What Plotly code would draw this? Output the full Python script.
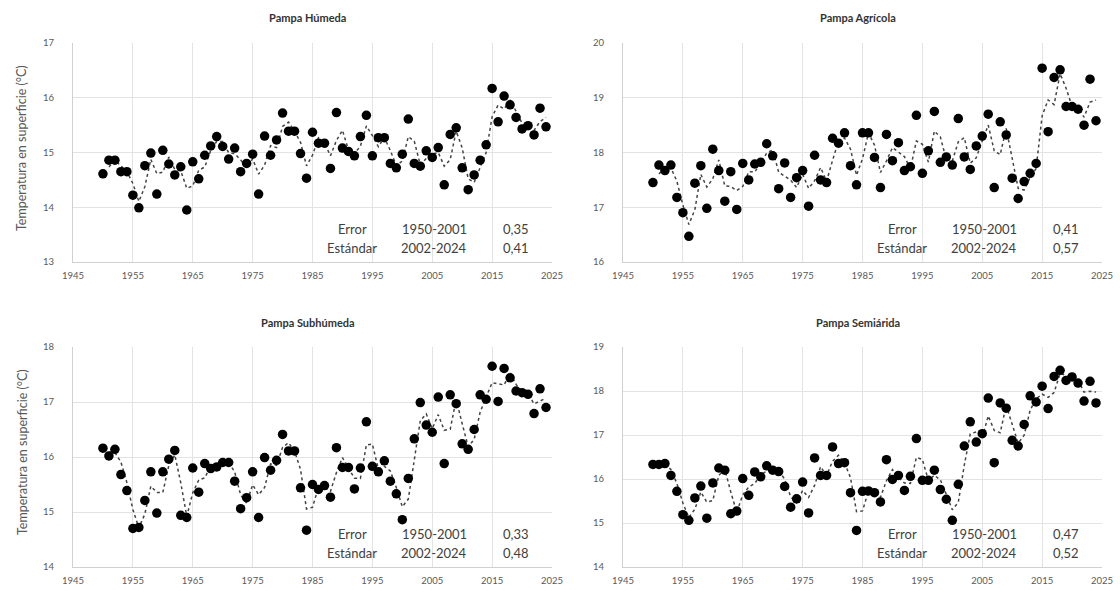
import plotly.graph_objects as go
import pandas as pd

years = list(range(1950, 2025))

humeda = [14.61, 14.86, 14.86, 14.65, 14.65, 14.22, 13.99, 14.76, 14.99, 14.24,
          15.04, 14.79, 14.59, 14.74, 13.95, 14.83, 14.52, 14.95, 15.12, 15.29,
          15.11, 14.88, 15.08, 14.65, 14.80, 14.97, 14.24, 15.30, 14.95, 15.23,
          15.72, 15.39, 15.39, 14.98, 14.53, 15.37, 15.17, 15.17, 14.71, 15.73,
          15.08, 15.02, 14.94, 15.29, 15.68, 14.94, 15.27, 15.27, 14.80, 14.72,
          14.97, 15.61, 14.80, 14.75, 15.03, 14.91, 15.09, 14.41, 15.33, 15.45,
          14.72, 14.32, 14.59, 14.86, 15.14, 16.17, 15.56, 16.03, 15.87, 15.64,
          15.43, 15.49, 15.32, 15.81, 15.47]

agricola = [17.45, 17.77, 17.67, 17.77, 17.18, 16.90, 16.47, 17.44, 17.76, 16.98,
            18.06, 17.67, 17.11, 17.65, 16.96, 17.80, 17.50, 17.79, 17.82, 18.16,
            17.94, 17.34, 17.81, 17.18, 17.54, 17.67, 17.02, 17.95, 17.50, 17.45,
            18.26, 18.17, 18.36, 17.76, 17.41, 18.36, 18.36, 17.91, 17.36, 18.33,
            17.85, 18.18, 17.67, 17.74, 18.68, 17.62, 18.03, 18.75, 17.82, 17.92,
            17.77, 18.62, 17.92, 17.69, 18.12, 18.30, 18.70, 17.36, 18.56, 18.32,
            17.53, 17.16, 17.47, 17.62, 17.80, 19.54, 18.38, 19.37, 19.51, 18.84,
            18.84, 18.79, 18.50, 19.34, 18.58]

subhumeda = [16.16, 16.02, 16.14, 15.68, 15.39, 14.70, 14.72, 15.21, 15.73, 14.98,
             15.73, 15.96, 16.12, 14.94, 14.90, 15.80, 15.36, 15.88, 15.79, 15.82,
             15.90, 15.90, 15.56, 15.06, 15.26, 15.73, 14.90, 15.99, 15.76, 15.94,
             16.41, 16.11, 16.11, 15.44, 14.67, 15.50, 15.41, 15.48, 15.27, 16.17,
             15.81, 15.81, 15.42, 15.80, 16.64, 15.83, 15.73, 15.93, 15.56, 15.33,
             14.86, 15.61, 16.33, 16.99, 16.58, 16.45, 17.09, 15.88, 17.13, 16.97,
             16.24, 16.14, 16.50, 17.13, 17.05, 17.65, 17.01, 17.61, 17.44, 17.20,
             17.17, 17.14, 16.79, 17.24, 16.90]

semiarida = [16.33, 16.33, 16.35, 16.08, 15.72, 15.19, 15.06, 15.57, 15.84, 15.11,
             15.91, 16.25, 16.20, 15.21, 15.27, 16.01, 15.63, 16.16, 16.05, 16.30,
             16.20, 16.17, 15.83, 15.36, 15.55, 15.93, 15.23, 16.48, 16.08, 16.08,
             16.73, 16.35, 16.37, 15.69, 14.83, 15.72, 15.73, 15.69, 15.48, 16.44,
             15.99, 16.08, 15.74, 16.06, 16.92, 15.97, 15.97, 16.20, 15.76, 15.54,
             15.06, 15.88, 16.75, 17.30, 16.84, 17.03, 17.84, 16.37, 17.73, 17.61,
             16.88, 16.75, 17.24, 17.89, 17.75, 18.11, 17.60, 18.33, 18.47, 18.24,
             18.32, 18.18, 17.77, 18.22, 17.73]

titles = ["Pampa Húmeda", "Pampa Agrícola", "Pampa Subhúmeda", "Pampa Semiárida"]
series = [humeda, agricola, subhumeda, semiarida]
y_ranges = [[13, 17], [16, 20], [14, 18], [14, 19]]
periods = ["1950-2001", "2002-2024"]
errors = [["0,35", "0,41"], ["0,41", "0,57"], ["0,33", "0,48"], ["0,47", "0,52"]]
x_ticks = list(range(1945, 2026, 10))
y_title = "Temperatura en superficie (°C)"

W, H = 1120, 591
# pixel layout of each panel in the window: (left, right, top, bottom)
boxes = [(73, 552, 43, 262), (623, 1102, 43, 262),
         (73, 552, 347, 567), (623, 1102, 347, 567)]


def px(xp):
    return xp / W


def py(yp):
    return 1 - yp / H


fig = go.Figure()
FONT = "Lato, 'Liberation Sans', sans-serif"
GRAY = "#595959"

for i, (vals, title) in enumerate(zip(series, titles)):
    ax = "" if i == 0 else str(i + 1)
    s = pd.Series(vals, index=years)
    ma = s.rolling(2).mean().dropna()
    fig.add_trace(go.Scatter(x=list(ma.index), y=list(ma.values), mode="lines",
                             line=dict(color="#444444", width=1.5, dash="dot"),
                             xaxis="x" + ax, yaxis="y" + ax, showlegend=False,
                             hoverinfo="skip", cliponaxis=False))
    fig.add_trace(go.Scatter(x=years, y=vals, mode="markers",
                             marker=dict(color="black", size=9.5),
                             xaxis="x" + ax, yaxis="y" + ax, showlegend=False,
                             cliponaxis=False))
    l, r, t, b = boxes[i]
    xd = [px(l), px(r)]
    yd = [py(b), py(t)]
    fig.layout["xaxis" + ax] = dict(
        domain=xd, range=[1945, 2025], tickvals=x_ticks, anchor="y" + ax,
        showgrid=True, gridcolor="#e3e3e3", gridwidth=1, automargin=False,
        showline=True, linecolor="#d0d0d0", linewidth=1, zeroline=False,
        ticks="", ticklabelstandoff=5,
        tickfont=dict(family=FONT, size=9.5, color=GRAY))
    fig.layout["yaxis" + ax] = dict(
        domain=yd, range=y_ranges[i], dtick=1, anchor="x" + ax,
        showgrid=True, gridcolor="#e3e3e3", gridwidth=1, automargin=False,
        showline=True, linecolor="#d0d0d0", linewidth=1, zeroline=False,
        ticks="", ticklabelstandoff=16,
        tickfont=dict(family=FONT, size=9.5, color=GRAY))
    # panel title
    fig.add_annotation(text="<b>" + title + "</b>", xref="x" + ax + " domain",
                       yref="paper", x=0.49, y=py(t - 25),
                       showarrow=False, xanchor="center", yanchor="middle",
                       font=dict(family=FONT, size=11, color="#333333"))
    # error table
    tfont = dict(family=FONT, size=13, color="#404040")
    rows_y = [0.15, 0.065]
    for j, (lab, per, err) in enumerate(zip(["Error", "Estándar"], periods, errors[i])):
        for xf, txt in zip([0.583, 0.754, 0.924], [lab, per, err]):
            fig.add_annotation(text=txt, xref="x" + ax + " domain",
                               yref="y" + ax + " domain", x=xf, y=rows_y[j],
                               showarrow=False, xanchor="center", yanchor="middle",
                               font=tfont)

for yc in [148, 452]:
    fig.add_annotation(text=y_title, xref="paper", yref="paper",
                       x=px(22), y=py(yc), textangle=-90, showarrow=False,
                       xanchor="center", yanchor="middle",
                       font=dict(family=FONT, size=12.5, color=GRAY))

fig.update_layout(width=W, height=H, margin=dict(l=0, r=0, t=0, b=0),
                  paper_bgcolor="white", plot_bgcolor="white")
fig.write_html("out.html", config={"displayModeBar": False},
               post_script="document.body.style.margin='0';"
                           "document.body.style.overflow='hidden';")
